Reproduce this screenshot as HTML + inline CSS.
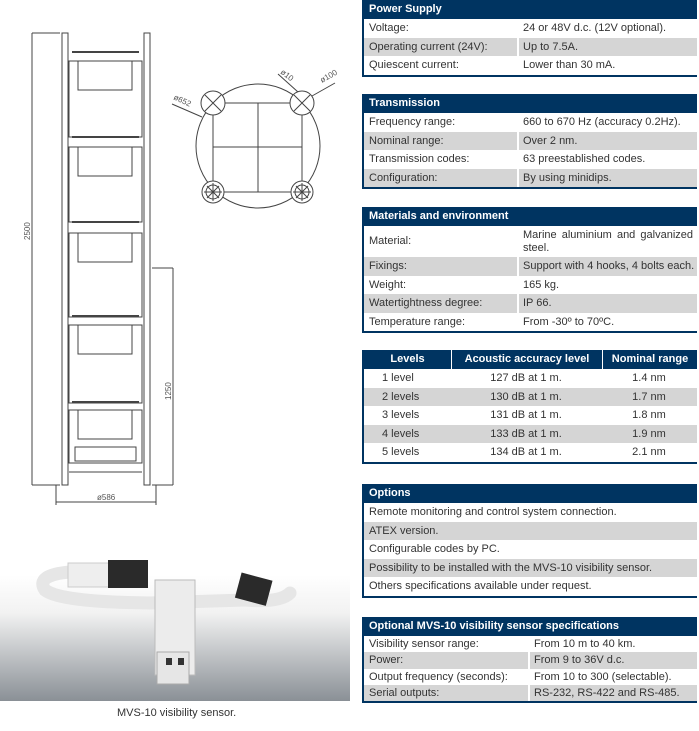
<!DOCTYPE html>
<html><head><meta charset="utf-8"><style>
body{margin:0;width:699px;height:731px;background:#fff;position:relative;overflow:hidden;font-family:"Liberation Sans",sans-serif;font-size:11px;color:#333}
.t{position:absolute;left:362px;width:335px;border-left:2px solid #003461;border-bottom:2px solid #003461;box-sizing:border-box}
.h{background:#003461;color:#fff;font-weight:bold;padding-left:5px;height:19px;line-height:19px}
.r{position:relative;height:18.5px;line-height:18.5px;padding-left:5px}
.g{background:#d5d5d5}
.r .v{position:absolute;top:0;bottom:0;border-left:2px solid #fff;padding-left:4px}
.lv{display:flex}
.lv div{text-align:center}
.lv div.c1{width:87px;text-align:left;padding-left:18px;box-sizing:border-box}
.lv div.c2{width:150px}
.lv div.c3{flex:1}
.h.lv div.c1{text-align:center;padding-left:0}
</style></head><body>

<svg width="360" height="731" style="position:absolute;left:0;top:0" xmlns="http://www.w3.org/2000/svg">
<defs><linearGradient id="bg" x1="0" y1="0" x2="0" y2="1"><stop offset="0" stop-color="#fff"/><stop offset="0.3" stop-color="#f2f2f2"/><stop offset="1" stop-color="#8a9096"/></linearGradient></defs>
<g stroke="#444" fill="none" stroke-width="1">
<rect x="62" y="33" width="6" height="452"/><rect x="144" y="33" width="6" height="452"/>
<rect x="69" y="61" width="73" height="76"/><rect x="69" y="147" width="73" height="75"/><rect x="69" y="233" width="73" height="84"/><rect x="69" y="325" width="73" height="78"/><rect x="69" y="410" width="73" height="53"/>
<line x1="69" y1="472" x2="142" y2="472"/>
<rect x="78" y="61" width="54" height="29"/><rect x="78" y="147" width="54" height="29"/><rect x="78" y="233" width="54" height="29"/><rect x="78" y="325" width="54" height="29"/><rect x="78" y="410" width="54" height="29"/><rect x="75" y="447" width="61" height="14"/>
<line x1="72" y1="52" x2="139" y2="52" stroke-width="2"/><line x1="72" y1="137" x2="139" y2="137" stroke-width="2"/><line x1="72" y1="222" x2="139" y2="222" stroke-width="2"/><line x1="72" y1="316" x2="139" y2="316" stroke-width="2"/><line x1="72" y1="402" x2="139" y2="402" stroke-width="2"/>
<line x1="32" y1="33" x2="32" y2="485"/><line x1="32" y1="33" x2="60" y2="33"/><line x1="32" y1="485" x2="60" y2="485"/>
<line x1="173" y1="268" x2="173" y2="485"/><line x1="152" y1="268" x2="173" y2="268"/><line x1="152" y1="485" x2="173" y2="485"/>
<line x1="56" y1="485" x2="56" y2="505"/><line x1="156" y1="485" x2="156" y2="505"/><line x1="56" y1="502" x2="156" y2="502"/>
<circle cx="258" cy="146" r="62"/>
<rect x="213" y="103" width="89" height="89"/><line x1="258" y1="103" x2="258" y2="192"/><line x1="213" y1="147" x2="302" y2="147"/>
<circle cx="213" cy="103" r="12" fill="#fff"/><path d="M205 95L221 111M221 95L205 111"/>
<circle cx="302" cy="103" r="12" fill="#fff"/><path d="M294 95L310 111M310 95L294 111"/>
<circle cx="213" cy="192" r="11" fill="#fff"/><circle cx="213" cy="192" r="7"/><path d="M204 192H222M213 183V201M207 186L219 198M219 186L207 198"/>
<circle cx="302" cy="192" r="11" fill="#fff"/><circle cx="302" cy="192" r="7"/><path d="M293 192H311M302 183V201M296 186L308 198M308 186L296 198"/>
<line x1="172" y1="104" x2="202" y2="117"/><line x1="278" y1="74" x2="298" y2="92"/><line x1="335" y1="83" x2="312" y2="96"/>
</g>
<g fill="#555" font-size="8">
<text transform="translate(30,240) rotate(-90)">2500</text>
<text transform="translate(171,400) rotate(-90)">1250</text>
<text x="97" y="500">ø586</text>
<text transform="translate(173,99) rotate(25)">ø652</text>
<text transform="translate(280,73) rotate(38)">ø10</text>
<text transform="translate(322,83) rotate(-30)">ø100</text>
</g>
<rect x="0" y="575" width="350" height="126" fill="url(#bg)"/>
<path d="M70 572 Q35 575 45 590 Q60 602 150 603 L245 600 Q280 603 290 593" stroke="#e6e6e6" stroke-width="13" fill="none" stroke-linecap="round"/>
<rect x="68" y="563" width="42" height="24" fill="#eee" stroke="#ccc"/>
<rect x="108" y="560" width="40" height="28" fill="#2a2a2a"/>
<rect x="238" y="576" width="32" height="26" fill="#2a2a2a" transform="rotate(15 253 588)"/>
<rect x="155" y="580" width="40" height="95" fill="#ececec" stroke="#bbb"/>
<rect x="157" y="652" width="32" height="32" fill="#e6e6e6" stroke="#aaa"/>
<rect x="166" y="658" width="6" height="7" fill="#333"/><rect x="178" y="658" width="6" height="7" fill="#333"/>
<text x="117" y="716" font-size="11" fill="#333">MVS-10 visibility sensor.</text>
</svg>

<div class="t" style="top:0">
<div class="h">Power Supply</div>
<div class="r">Voltage:<span class="v" style="left:153px">24 or 48V d.c. (12V optional).</span></div>
<div class="r g">Operating current (24V):<span class="v" style="left:153px">Up to 7.5A.</span></div>
<div class="r">Quiescent current:<span class="v" style="left:153px">Lower than 30 mA.</span></div>
</div>

<div class="t" style="top:94px">
<div class="h">Transmission</div>
<div class="r">Frequency range:<span class="v" style="left:153px">660 to 670 Hz (accuracy 0.2Hz).</span></div>
<div class="r g">Nominal range:<span class="v" style="left:153px">Over 2 nm.</span></div>
<div class="r">Transmission codes:<span class="v" style="left:153px">63 preestablished codes.</span></div>
<div class="r g">Configuration:<span class="v" style="left:153px">By using minidips.</span></div>
</div>

<div class="t" style="top:207px">
<div class="h">Materials and environment</div>
<div class="r" style="height:31px;line-height:31px">Material:<span class="v" style="left:153px;line-height:13px;padding-top:3px;width:170px;text-align:justify">Marine aluminium and galvanized steel.</span></div>
<div class="r g">Fixings:<span class="v" style="left:153px">Support with 4 hooks, 4 bolts each.</span></div>
<div class="r">Weight:<span class="v" style="left:153px">165 kg.</span></div>
<div class="r g">Watertightness degree:<span class="v" style="left:153px">IP 66.</span></div>
<div class="r">Temperature range:<span class="v" style="left:153px">From -30º to 70ºC.</span></div>
</div>

<div class="t" style="top:350px">
<div class="h lv" style="padding:0"><div class="c1">Levels</div><div class="c2" style="border-left:1px solid #fff">Acoustic accuracy level</div><div class="c3" style="border-left:1px solid #fff">Nominal range</div></div>
<div class="r lv" style="padding:0"><div class="c1">1 level</div><div class="c2">127 dB at 1 m.</div><div class="c3">1.4 nm</div></div>
<div class="r lv g" style="padding:0"><div class="c1">2 levels</div><div class="c2">130 dB at 1 m.</div><div class="c3">1.7 nm</div></div>
<div class="r lv" style="padding:0"><div class="c1">3 levels</div><div class="c2">131 dB at 1 m.</div><div class="c3">1.8 nm</div></div>
<div class="r lv g" style="padding:0"><div class="c1">4 levels</div><div class="c2">133 dB at 1 m.</div><div class="c3">1.9 nm</div></div>
<div class="r lv" style="padding:0"><div class="c1">5 levels</div><div class="c2">134 dB at 1 m.</div><div class="c3">2.1 nm</div></div>
</div>

<div class="t" style="top:484px">
<div class="h">Options</div>
<div class="r">Remote monitoring and control system connection.</div>
<div class="r g">ATEX version.</div>
<div class="r">Configurable codes by PC.</div>
<div class="r g">Possibility to be installed with the MVS-10 visibility sensor.</div>
<div class="r">Others specifications available under request.</div>
</div>

<div class="t" style="top:617px">
<div class="h">Optional MVS-10 visibility sensor specifications</div>
<div class="r" style="height:16.3px;line-height:16px">Visibility sensor range:<span class="v" style="left:164px">From 10 m to 40 km.</span></div>
<div class="r g" style="height:16.3px;line-height:16px">Power:<span class="v" style="left:164px">From 9 to 36V d.c.</span></div>
<div class="r" style="height:16.3px;line-height:16px">Output frequency (seconds):<span class="v" style="left:164px">From 10 to 300 (selectable).</span></div>
<div class="r g" style="height:16.3px;line-height:16px">Serial outputs:<span class="v" style="left:164px">RS-232, RS-422 and RS-485.</span></div>
</div>
</body></html>
